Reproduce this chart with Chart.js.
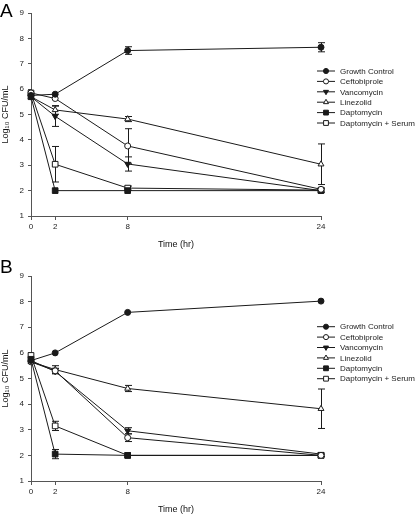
<!DOCTYPE html>
<html>
<head>
<meta charset="utf-8">
<script src="https://cdn.jsdelivr.net/npm/chart.js@4/dist/chart.umd.min.js"></script>
<style>
  body { margin: 0; background: #fff; width: 416px; height: 515px; overflow: hidden; position: relative; font-family: "Liberation Sans", Arial, sans-serif; }
  .panel { position: absolute; left: 0; }
  .lbl { position: absolute; left: 0; font-size: 19px; color: #000; line-height: 1; }
</style>
</head>
<body>
<div class="panel" style="top:0"><canvas id="chartA" width="416" height="250"></canvas></div>
<div class="panel" style="top:264px"><canvas id="chartB" width="416" height="251"></canvas></div>
<div class="lbl" style="top:1px">A</div>
<div class="lbl" style="top:257px">B</div>
<script>
// time points (hr) and axis ticks
const times = [0, 2, 8, 24];
const xTicks = [0, 2, 8, 24];
const seriesNames = ['Growth Control', 'Ceftobiprole', 'Vancomycin', 'Linezolid', 'Daptomycin', 'Daptomycin + Serum'];

// panel A, log10 CFU/mL
const growthA = [5.75, 5.8, 7.52, 7.65];
const ceftoA = [5.85, 5.63, 3.76, 2.05];
const vancoA = [5.7, 4.93, 3.05, 2.0];
const linezA = [5.7, 5.18, 4.82, 3.04];
const daptoA = [5.7, 2.0, 2.0, 2.0];
const daptoSerumA = [5.85, 3.04, 2.1, 2.02];
// panel A, standard deviations (0 = bar hidden by the marker)
const growthErrA = [0, 0, 0.15, 0.18];
const ceftoErrA = [0, 0, 0.68, 0];
const vancoErrA = [0, 0.4, 0.28, 0];
const linezErrA = [0, 0.17, 0.1, 0.8];
const daptoErrA = [0, 0, 0, 0];
const daptoSerumErrA = [0, 0.7, 0.08, 0.08];

// panel B, log10 CFU/mL
const growthB = [5.7, 6.0, 7.58, 8.02];
const ceftoB = [5.65, 5.3, 2.69, 2.0];
const vancoB = [5.7, 5.28, 2.96, 2.05];
const linezB = [5.65, 5.35, 4.61, 3.82];
const daptoB = [5.75, 2.05, 2.0, 2.0];
const daptoSerumB = [5.9, 3.15, 2.0, 2.0];
// panel B, standard deviations
const growthErrB = [0, 0, 0, 0];
const ceftoErrB = [0, 0.1, 0.15, 0];
const vancoErrB = [0, 0.1, 0.12, 0];
const linezErrB = [0, 0.15, 0.12, 0.77];
const daptoErrB = [0, 0.18, 0, 0];
const daptoSerumErrB = [0, 0.18, 0, 0.05];

const ink = '#1a1a1a';
const axisCol = '#555';

// marker look for each series
const markers = [
  { pointStyle: 'circle', radius: 3, fill: ink, rotation: 0 },
  { pointStyle: 'circle', radius: 3, fill: '#fff', rotation: 0 },
  { pointStyle: 'triangle', radius: 3.4, fill: ink, rotation: 180 },
  { pointStyle: 'triangle', radius: 3.4, fill: '#fff', rotation: 0 },
  { pointStyle: 'rect', radius: 4, fill: ink, rotation: 0 },
  { pointStyle: 'rect', radius: 4, fill: '#fff', rotation: 0 }
];

// vertical error bars with caps, drawn under the markers
const errorBars = {
  id: 'errorBars',
  beforeDatasetsDraw(chart) {
    const ctx = chart.ctx;
    const x = chart.scales.x, y = chart.scales.y;
    ctx.save();
    ctx.strokeStyle = ink;
    ctx.lineWidth = 1;
    chart.data.datasets.forEach(ds => {
      const errs = ds.errors;
      ds.data.forEach((p, j) => {
        if (!errs[j]) return;
        const px = Math.round(x.getPixelForValue(p.x)) + 0.5;
        const top = y.getPixelForValue(p.y + errs[j]);
        const bot = y.getPixelForValue(p.y - errs[j]);
        ctx.beginPath();
        ctx.moveTo(px, top); ctx.lineTo(px, bot);
        ctx.moveTo(px - 3.5, top); ctx.lineTo(px + 3.5, top);
        ctx.moveTo(px - 3.5, bot); ctx.lineTo(px + 3.5, bot);
        ctx.stroke();
      });
    });
    ctx.restore();
  }
};

// legend to the right of the plot
const sideLegend = {
  id: 'sideLegend',
  afterDraw(chart, args, opts) {
    const ctx = chart.ctx;
    ctx.save();
    ctx.font = '8px "Liberation Sans", Arial, sans-serif';
    ctx.textBaseline = 'middle';
    chart.data.datasets.forEach((ds, i) => {
      const yy = opts.y + i * 10.4;
      ctx.strokeStyle = ink;
      ctx.lineWidth = 1;
      ctx.beginPath();
      ctx.moveTo(opts.x, yy); ctx.lineTo(opts.x + 18, yy);
      ctx.stroke();
      ctx.fillStyle = markers[i].fill;
      Chart.helpers.drawPoint(ctx, {
        pointStyle: markers[i].pointStyle,
        radius: markers[i].radius * 0.85,
        rotation: markers[i].rotation,
        borderWidth: 1
      }, opts.x + 9, yy);
      ctx.fillStyle = '#222';
      ctx.fillText(ds.label, opts.x + 23, yy + 0.5);
    });
    ctx.restore();
  }
};

function makeChart(id, series, errors, legendY) {
  const datasets = series.map((vals, i) => ({
    label: seriesNames[i],
    data: vals.map((v, j) => ({ x: times[j], y: v })),
    errors: errors[i],
    borderColor: ink,
    borderWidth: 1,
    pointStyle: markers[i].pointStyle,
    pointRadius: markers[i].radius,
    pointRotation: markers[i].rotation,
    pointBackgroundColor: markers[i].fill,
    pointBorderColor: ink,
    pointBorderWidth: 1,
    tension: 0,
    clip: false
  }));

  new Chart(document.getElementById(id), {
    type: 'line',
    data: { datasets: datasets },
    options: {
      responsive: false,
      animation: false,
      layout: { padding: { top: id === 'chartA' ? 13 : 12, right: 95, left: 0, bottom: 0 } },
      plugins: {
        legend: { display: false },
        tooltip: { enabled: false },
        sideLegend: { x: 317, y: legendY }
      },
      scales: {
        x: {
          type: 'linear',
          min: 0,
          max: 24,
          afterBuildTicks: s => { s.ticks = xTicks.map(v => ({ value: v })); },
          afterFit: s => { s.height = 34; },
          grid: { drawOnChartArea: false, tickLength: 4, color: axisCol },
          border: { color: axisCol },
          ticks: { font: { size: 8, family: '"Liberation Sans", Arial' }, color: '#222', padding: 2, maxRotation: 0, autoSkip: false },
          title: { display: true, text: 'Time (hr)', color: '#111', font: { size: 9, family: '"Liberation Sans", Arial' }, padding: { top: 0, bottom: 0 } }
        },
        y: {
          min: 1,
          max: 9,
          afterFit: s => { s.width = 31; },
          grid: { drawOnChartArea: false, tickLength: 3, color: axisCol },
          border: { color: axisCol },
          ticks: { stepSize: 1, font: { size: 8, family: '"Liberation Sans", Arial' }, color: '#222', padding: 4 },
          title: { display: true, text: 'Log\u2081\u2080 CFU/mL', color: '#111', font: { size: 9, family: '"Liberation Sans", Arial' }, padding: { top: 0, bottom: 0 } }
        }
      }
    },
    plugins: [errorBars, sideLegend]
  });
}

makeChart('chartA',
  [growthA, ceftoA, vancoA, linezA, daptoA, daptoSerumA],
  [growthErrA, ceftoErrA, vancoErrA, linezErrA, daptoErrA, daptoSerumErrA],
  71);
makeChart('chartB',
  [growthB, ceftoB, vancoB, linezB, daptoB, daptoSerumB],
  [growthErrB, ceftoErrB, vancoErrB, linezErrB, daptoErrB, daptoSerumErrB],
  62.7);
</script>
</body>
</html>
